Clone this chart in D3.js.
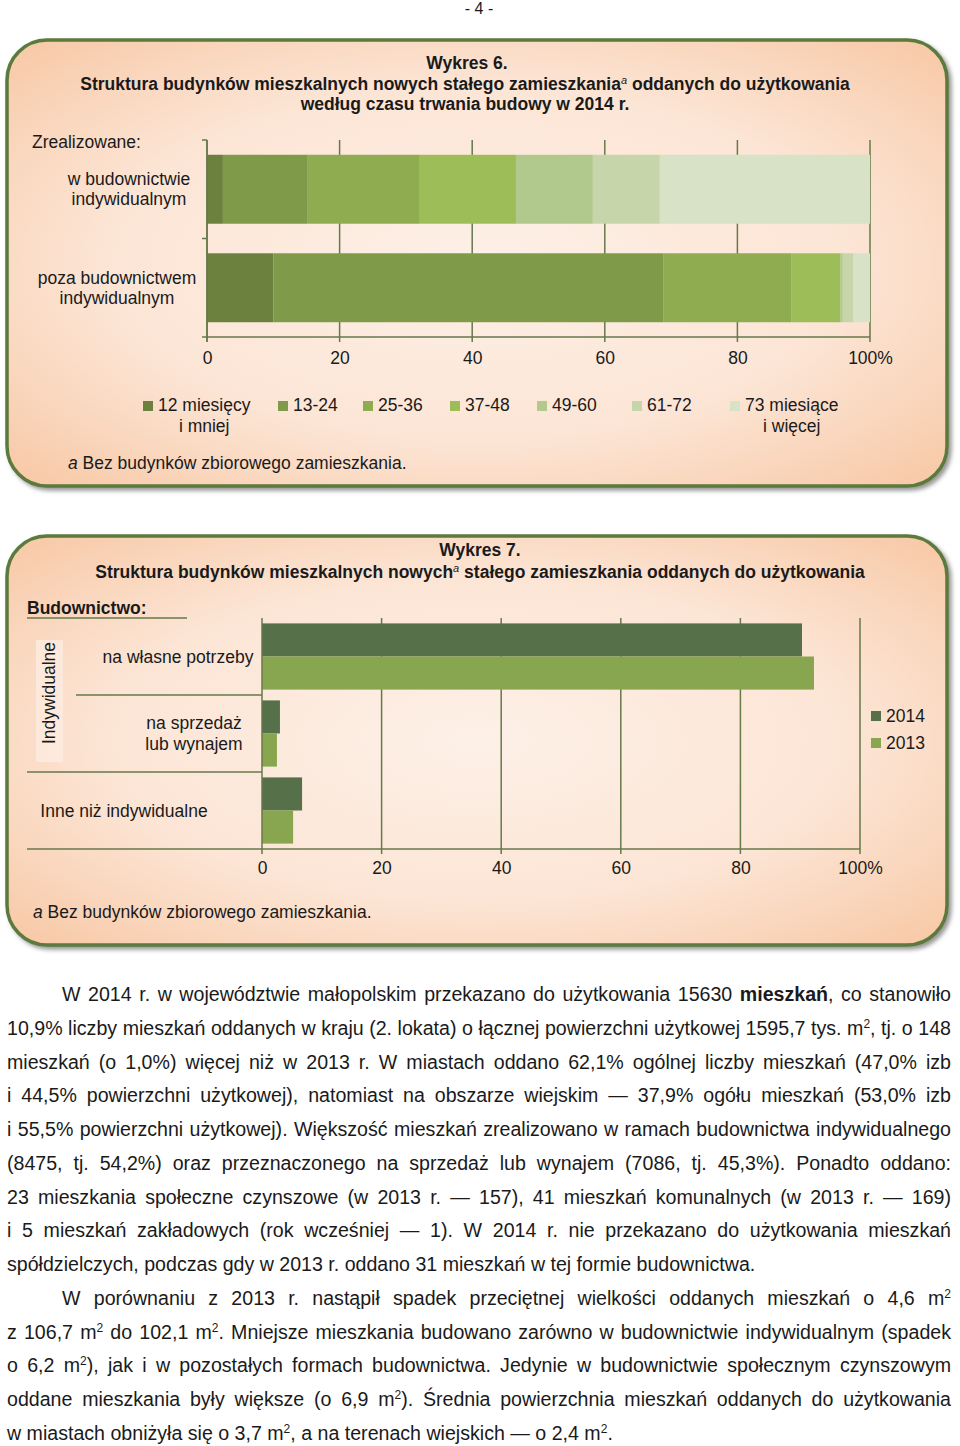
<!DOCTYPE html>
<html><head><meta charset="utf-8">
<script src="https://cdn.jsdelivr.net/npm/d3@7"></script>
<style>
body{margin:0;background:#fff}
svg{display:block}
text{font-family:"Liberation Sans",Arial,Helvetica,sans-serif;fill:#1a1a1a}
</style>
</head><body>
<svg id="c" width="960" height="1446"></svg>
<script>
// ---------- DATA ----------
const ageKeys = ["12 miesięcy i mniej","13-24","25-36","37-48","49-60","61-72","73 miesiące i więcej"];
const ageLegendLines = [["12 miesięcy","i mniej"],["13-24"],["25-36"],["37-48"],["49-60"],["61-72"],["73 miesiące","i więcej"]];
const buildTypes = ["w budownictwie indywidualnym","poza budownictwem indywidualnym"];
const buildTypeLines = [["w budownictwie","indywidualnym"],["poza budownictwem","indywidualnym"]];
const indywidualneValues = [2.4, 12.8, 16.9, 14.5, 11.6, 10.1, 31.7];
const pozaValues = [10.0, 58.8, 19.3, 7.4, 0.4, 1.6, 2.5];
const tickValues = [0,20,40,60,80,100];
const tickLabels = ["0","20","40","60","80","100%"];

const categories2 = ["na własne potrzeby","na sprzedaż lub wynajem","Inne niż indywidualne"];
const years = ["2014","2013"];
const values2014 = [90.3, 3.0, 6.7];
const values2013 = [92.3, 2.5, 5.2];

// ---------- STYLES ----------
const ageColors = ["#6b813d","#7f9a48","#8fac51","#9dbd59","#b1c98d","#c6d6aa","#d8e2c6"];
const yearColors = {"2014":"#56714a","2013":"#88a64f"};
const gridColor = "#66794a";
const FS = 17.5;

const svg = d3.select("#c");
const defs = svg.append("defs");
const rg = defs.append("radialGradient").attr("id","bg").attr("cx","0.5").attr("cy","0.5").attr("r","0.72");
rg.append("stop").attr("offset","0").attr("stop-color","#fdf0e7");
rg.append("stop").attr("offset","0.55").attr("stop-color","#fce5d5");
rg.append("stop").attr("offset","1").attr("stop-color","#f7c6a2");
const f = defs.append("filter").attr("id","sh").attr("x","-5%").attr("y","-5%").attr("width","110%").attr("height","110%");
f.append("feDropShadow").attr("dx",3).attr("dy",3).attr("stdDeviation",2).attr("flood-color","#6d6d6d").attr("flood-opacity",0.7);

svg.append("rect").attr("width",960).attr("height",1446).attr("fill","#fff");

svg.append("text").attr("x",479).attr("y",14).attr("text-anchor","middle").style("font-size","16px").text("- 4 -");

function panel(y0,y1){
  svg.append("rect").attr("x",7).attr("y",y0).attr("width",940).attr("height",y1-y0)
    .attr("rx",40).attr("ry",40).attr("fill","url(#bg)").attr("stroke","#5b7a3b").attr("stroke-width",3.5)
    .attr("filter","url(#sh)");
}
function titleLine(cx, y, parts){
  const t = svg.append("text").attr("x",cx).attr("y",y).attr("text-anchor","middle")
    .style("font-size",FS+"px").style("font-weight","bold");
  let back = 0;
  parts.forEach(p=>{
    if(p.sup){
      t.append("tspan").text(p.t).attr("dy",-6).style("font-size","11px").style("font-style","italic").style("font-weight","normal");
      back = 6;
    } else { const ts = t.append("tspan").text(p.t); if(back){ ts.attr("dy",back); back=0; } }
  });
}
function footnote(x,y){
  const t = svg.append("text").attr("x",x).attr("y",y).style("font-size",FS+"px");
  t.append("tspan").text("a").style("font-style","italic");
  t.append("tspan").text(" Bez budynków zbiorowego zamieszkania.");
}

// ================= PANEL 1 =================
panel(40,486);
titleLine(467,69,[{t:"Wykres 6."}]);
titleLine(465,90,[{t:"Struktura budynków mieszkalnych nowych stałego zamieszkania"},{t:"a",sup:true},{t:" oddanych do użytkowania"}]);
titleLine(465,110,[{t:"według czasu trwania budowy w 2014 r."}]);

const x1 = d3.scaleLinear().domain([0,100]).range([207,870]);
const y1 = d3.scaleBand().domain(buildTypes).range([140,337]).paddingInner(0.3).paddingOuter(0.15);

const rows1 = buildTypes.map((b,i)=>{
  const o = {type:b};
  const vals = i===0 ? indywidualneValues : pozaValues;
  ageKeys.forEach((k,j)=>o[k]=vals[j]);
  return o;
});
const stack1 = d3.stack().keys(ageKeys)(rows1);

const g1 = svg.append("g");
g1.selectAll("line.grid").data(tickValues).join("line")
  .attr("x1",d=>x1(d)).attr("x2",d=>x1(d)).attr("y1",140).attr("y2",342)
  .attr("stroke",gridColor).attr("stroke-width",1.5);
g1.selectAll("g.s").data(stack1).join("g").attr("fill",(d,i)=>ageColors[i])
  .selectAll("rect").data(d=>d).join("rect")
  .attr("x",d=>x1(d[0])).attr("width",d=>x1(d[1])-x1(d[0]))
  .attr("y",d=>y1(d.data.type)).attr("height",y1.bandwidth());
g1.append("line").attr("x1",x1(0)).attr("x2",x1(100)).attr("y1",337).attr("y2",337).attr("stroke",gridColor).attr("stroke-width",1.5);
g1.append("line").attr("x1",x1(0)).attr("x2",x1(0)).attr("y1",140).attr("y2",342).attr("stroke",gridColor).attr("stroke-width",1.5);
const bnd1 = d3.range(buildTypes.length+1).map(i=>y1.range()[0]+i*y1.step());
g1.selectAll("line.lt").data(bnd1).join("line")
  .attr("x1",x1(0)-5).attr("x2",x1(0)).attr("y1",d=>d).attr("y2",d=>d).attr("stroke",gridColor).attr("stroke-width",1.5);
const ax1 = d3.axisBottom(x1).tickValues(tickValues).tickFormat((d,i)=>tickLabels[i]).tickSize(0).tickPadding(15);
const ag1 = svg.append("g").attr("transform","translate(0,337)").call(ax1);
ag1.select(".domain").remove();
ag1.selectAll("text").style("font-size",FS+"px").attr("fill","#1a1a1a").style("font-family",'"Liberation Sans",Arial,sans-serif');

svg.append("text").attr("x",32).attr("y",148).style("font-size",FS+"px").text("Zrealizowane:");
const labCenters1 = [129,117];
buildTypes.forEach((b,i)=>{
  const cy = y1(b)+y1.bandwidth()/2;
  buildTypeLines[i].forEach((ln,j)=>{
    svg.append("text").attr("x",labCenters1[i]).attr("y",cy - 10 + j*20 + 6).attr("text-anchor","middle")
      .style("font-size",FS+"px").text(ln);
  });
});

const legX = [158,293,378,465,552,647,745];
ageKeys.forEach((k,i)=>{
  svg.append("rect").attr("x",legX[i]-15).attr("y",401).attr("width",10).attr("height",10).attr("fill",ageColors[i]);
  const t = svg.append("text").attr("x",legX[i]).attr("y",411).style("font-size",FS+"px").text(ageLegendLines[i][0]);
  if(ageLegendLines[i][1]){
    const w = t.node().getComputedTextLength();
    svg.append("text").attr("x",legX[i]+w/2).attr("y",432).attr("text-anchor","middle").style("font-size",FS+"px").text(ageLegendLines[i][1]);
  }
});
footnote(68,469);

// ================= PANEL 2 =================
panel(536,945);
titleLine(480,556,[{t:"Wykres 7."}]);
titleLine(480,578,[{t:"Struktura budynków mieszkalnych nowych"},{t:"a",sup:true},{t:" stałego zamieszkania oddanych do użytkowania"}]);

const x2 = d3.scaleLinear().domain([0,100]).range([262,860]);
const y2 = d3.scaleBand().domain(categories2).range([618,849]).paddingInner(0.14).paddingOuter(0.07);
const yInner = d3.scaleBand().domain(years).range([0,y2.bandwidth()]);
const rows2 = categories2.map((c,i)=>({cat:c,"2014":values2014[i],"2013":values2013[i]}));

svg.append("rect").attr("x",36).attr("y",640).attr("width",27).attr("height",122).attr("fill","#fdeee4").attr("opacity",0.7);

const g2 = svg.append("g");
g2.selectAll("line.grid").data(tickValues.slice(1)).join("line")
  .attr("x1",d=>x2(d)).attr("x2",d=>x2(d)).attr("y1",618).attr("y2",854)
  .attr("stroke",gridColor).attr("stroke-width",1.5);
g2.selectAll("g.c").data(rows2).join("g").attr("transform",d=>`translate(0,${y2(d.cat)})`)
  .selectAll("rect").data(d=>years.map(yr=>({yr,v:d[yr]}))).join("rect")
  .attr("x",x2(0)).attr("width",d=>x2(d.v)-x2(0))
  .attr("y",d=>yInner(d.yr)).attr("height",yInner.bandwidth())
  .attr("fill",d=>yearColors[d.yr]);
g2.append("line").attr("x1",x2(0)).attr("x2",x2(0)).attr("y1",618).attr("y2",854).attr("stroke",gridColor).attr("stroke-width",1.5);
g2.append("line").attr("x1",27).attr("x2",x2(100)).attr("y1",849).attr("y2",849).attr("stroke",gridColor).attr("stroke-width",1.5);
g2.append("line").attr("x1",27).attr("x2",187).attr("y1",618).attr("y2",618).attr("stroke",gridColor).attr("stroke-width",1.5);
const bnd2 = d3.range(1,categories2.length).map(i=>y2.range()[0]+i*y2.step());
g2.append("line").attr("x1",76).attr("x2",x2(0)).attr("y1",bnd2[0]).attr("y2",bnd2[0]).attr("stroke",gridColor).attr("stroke-width",1.5);
g2.append("line").attr("x1",27).attr("x2",x2(0)).attr("y1",bnd2[1]).attr("y2",bnd2[1]).attr("stroke",gridColor).attr("stroke-width",1.5);

const ax2 = d3.axisBottom(x2).tickValues(tickValues).tickFormat((d,i)=>tickLabels[i]).tickSize(0).tickPadding(13);
const ag2 = svg.append("g").attr("transform","translate(0,849)").call(ax2);
ag2.select(".domain").remove();
ag2.selectAll("text").style("font-size",FS+"px").attr("fill","#1a1a1a").style("font-family",'"Liberation Sans",Arial,sans-serif');

svg.append("text").attr("x",27).attr("y",614).style("font-size",FS+"px").style("font-weight","bold").text("Budownictwo:");
svg.append("text").attr("transform","translate(55,693) rotate(-90)").attr("text-anchor","middle").style("font-size",FS+"px").text("Indywidualne");
const catLabel2 = [
  {lines:["na własne potrzeby"], cx:178},
  {lines:["na sprzedaż","lub wynajem"], cx:194},
  {lines:["Inne niż indywidualne"], cx:124}
];
categories2.forEach((c,i)=>{
  const cy = y2(c)+y2.bandwidth()/2;
  const L = catLabel2[i].lines;
  L.forEach((ln,j)=>{
    svg.append("text").attr("x",catLabel2[i].cx).attr("y",cy + (j-(L.length-1)/2)*21 + 6)
      .attr("text-anchor","middle").style("font-size",FS+"px").text(ln);
  });
});
years.forEach((yr,i)=>{
  svg.append("rect").attr("x",871).attr("y",711+i*27).attr("width",10).attr("height",10).attr("fill",yearColors[yr]);
  svg.append("text").attr("x",886).attr("y",722+i*27).style("font-size",FS+"px").text(yr);
});
footnote(33,918);

// ================= BODY TEXT =================
const body = [
  {s:"W 2014 r. w województwie małopolskim przekazano do użytkowania 15630 **mieszkań**, co stanowiło", indent:true, just:true},
  {s:"10,9% liczby mieszkań oddanych w kraju (2. lokata) o łącznej powierzchni użytkowej 1595,7 tys. m^2, tj. o 148", just:true},
  {s:"mieszkań (o 1,0%) więcej niż w 2013 r. W miastach oddano 62,1% ogólnej liczby mieszkań (47,0% izb", just:true},
  {s:"i 44,5% powierzchni użytkowej), natomiast na obszarze wiejskim — 37,9% ogółu mieszkań (53,0% izb", just:true},
  {s:"i 55,5% powierzchni użytkowej). Większość mieszkań zrealizowano w ramach budownictwa indywidualnego", just:true},
  {s:"(8475, tj. 54,2%) oraz przeznaczonego na sprzedaż lub wynajem (7086, tj. 45,3%). Ponadto oddano:", just:true},
  {s:"23 mieszkania społeczne czynszowe (w 2013 r. — 157), 41 mieszkań komunalnych (w 2013 r. — 169)", just:true},
  {s:"i 5 mieszkań zakładowych (rok wcześniej — 1). W 2014 r. nie przekazano do użytkowania mieszkań", just:true},
  {s:"spółdzielczych, podczas gdy w 2013 r. oddano 31 mieszkań w tej formie budownictwa.", just:false},
  {s:"W porównaniu z 2013 r. nastąpił spadek przeciętnej wielkości oddanych mieszkań o 4,6 m^2", indent:true, just:true},
  {s:"z 106,7 m^2 do 102,1 m^2. Mniejsze mieszkania budowano zarówno w budownictwie indywidualnym (spadek", just:true},
  {s:"o 6,2 m^2), jak i w pozostałych formach budownictwa. Jedynie w budownictwie społecznym czynszowym", just:true},
  {s:"oddane mieszkania były większe (o 6,9 m^2). Średnia powierzchnia mieszkań oddanych do użytkowania", just:true},
  {s:"w miastach obniżyła się o 3,7 m^2, a na terenach wiejskich — o 2,4 m^2.", just:false}
];
const BFS = 19.6;
body.forEach((ln,i)=>{
  const x0 = ln.indent ? 62 : 7, xr = 951;
  const y = 1001 + i*33.77;
  const t = svg.append("text").attr("x",x0).attr("y",y).style("font-size",BFS+"px");
  const parts = ln.s.split(/(\*\*[^*]+\*\*|\^2)/).filter(p=>p.length);
  let back = 0;
  parts.forEach(p=>{
    let ts;
    if(p==="^2"){ t.append("tspan").attr("dy",-7).style("font-size","12px").text("2"); back = 7; return; }
    if(p.startsWith("**")) ts = t.append("tspan").style("font-weight","bold").text(p.slice(2,-2));
    else ts = t.append("tspan").text(p);
    if(back){ ts.attr("dy",back); back = 0; }
  });
  if(ln.just){
    const L = t.node().getComputedTextLength();
    const n = (ln.s.match(/ /g)||[]).length;
    t.style("word-spacing", ((xr-x0-L)/n)+"px");
  }
});
</script>
</body></html>
